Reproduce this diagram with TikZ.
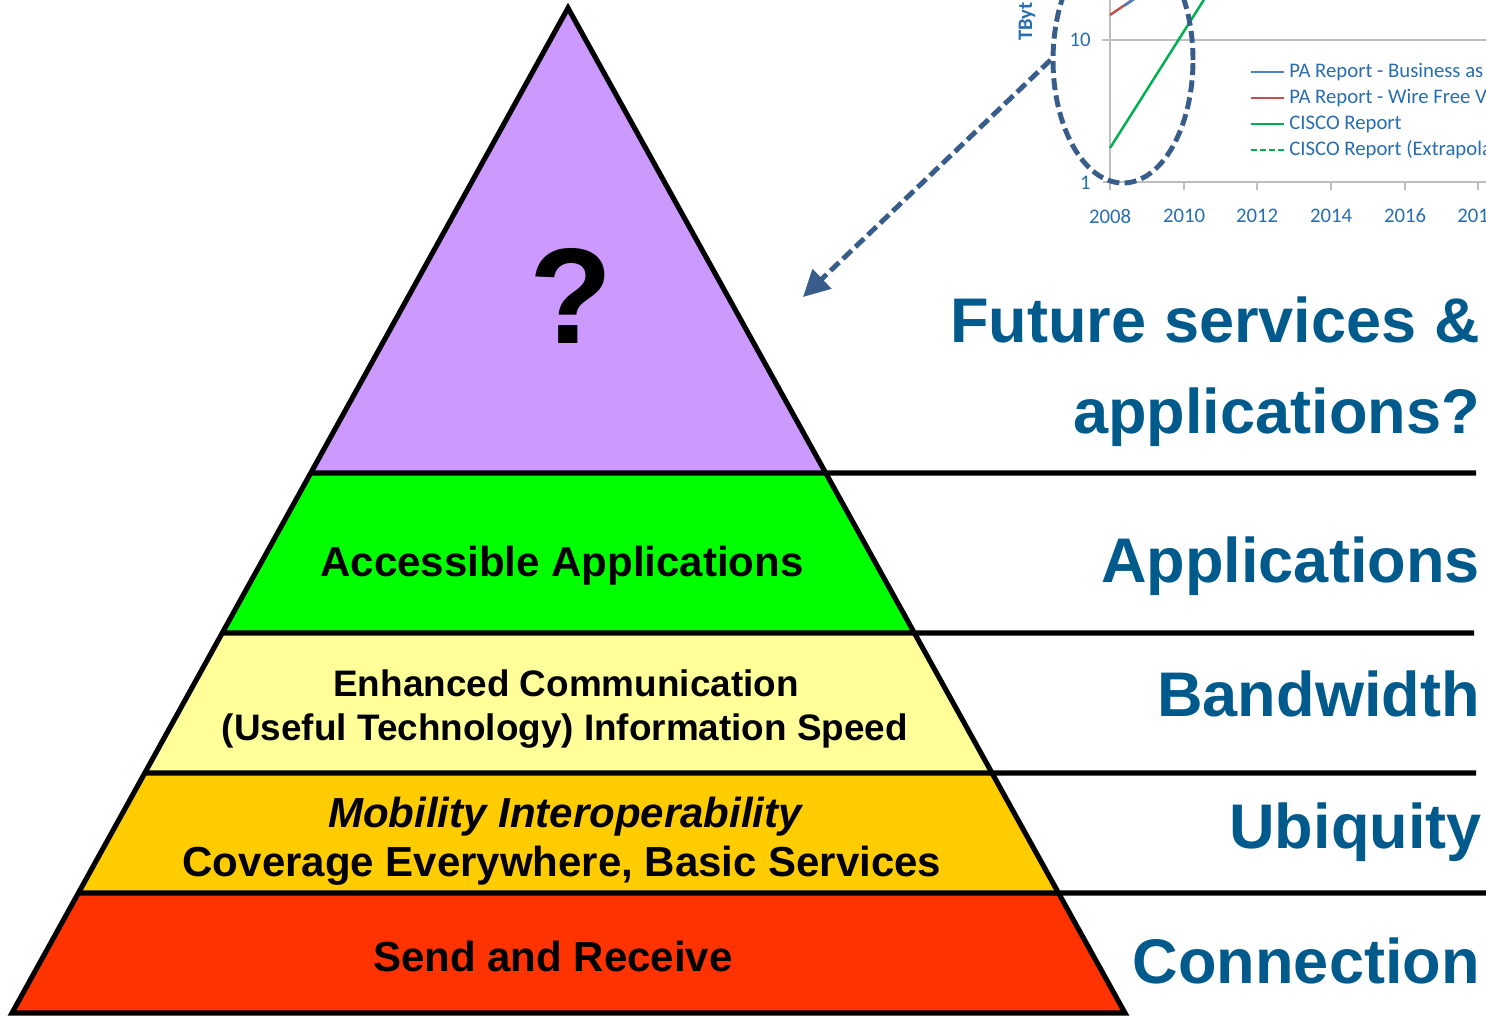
\documentclass[tikz,border=0pt]{standalone}
\usepackage{fontspec}
\usepackage{tikz}
\setmainfont{Liberation Sans}
\newfontfamily\chartfont{Carlito}
\usetikzlibrary{calc, shapes, arrows.meta}
\definecolor{toptier}{RGB}{204,153,255}
\definecolor{apptier}{RGB}{0,255,0}
\definecolor{bandtier}{RGB}{255,255,153}
\definecolor{ubiqtier}{RGB}{255,204,0}
\definecolor{conntier}{RGB}{255,51,0}
\definecolor{labelblue}{RGB}{0,90,140}
\definecolor{ringblue}{RGB}{56,93,138}
\definecolor{charttext}{RGB}{40,110,175}
\definecolor{chartgrid}{RGB}{190,190,190}
\definecolor{pablue}{RGB}{79,129,189}
\definecolor{pared}{RGB}{192,80,77}
\definecolor{ciscogreen}{RGB}{0,176,80}

\begin{document}
\begin{tikzpicture}[x=0.02cm, y=-0.02cm]
\tikzstyle{edge}=[draw=black, line width=2.9pt, line join=miter]
\tikzstyle{tiertext}=[font=\bfseries\fontsize{23.9}{28}\selectfont, anchor=base, inner sep=0pt]
\tikzstyle{sidelabel}=[font=\bfseries\fontsize{35.9}{43}\selectfont, text=labelblue, anchor=base east, inner sep=0pt]
\tikzstyle{ticklabel}=[font=\chartfont\fontsize{11.8}{14}\selectfont, text=charttext, inner sep=0pt]
\tikzstyle{dashline}=[draw=ringblue, line width=2.8pt, dash pattern=on 6.8pt off 3pt]
\tikzstyle{dataline}=[line width=1.4pt]

\fill[white] (0,0) rectangle (1486,1015);
\clip (0,0) rectangle (1486,1015);

% pyramid corners and tier edges
\coordinate (apex) at (568,8);
\coordinate (bl) at (12,1013);
\coordinate (br) at (1125,1013);
\foreach \n/\t in {a/0.4627,b/0.6219,c/0.7612,d/0.8806} {
  \coordinate (l\n) at ($(apex)!\t!(bl)$);
  \coordinate (r\n) at ($(apex)!\t!(br)$);
}
\fill[toptier] (apex) -- (ra) -- (la) -- cycle;
\fill[apptier] (la) -- (ra) -- (rb) -- (lb) -- cycle;
\fill[bandtier] (lb) -- (rb) -- (rc) -- (lc) -- cycle;
\fill[ubiqtier] (lc) -- (rc) -- (rd) -- (ld) -- cycle;
\fill[conntier] (ld) -- (rd) -- (br) -- (bl) -- cycle;

\draw[edge] (la) -- (1476,473);
\draw[edge] (lb) -- (1474,633);
\draw[edge] (lc) -- (1476,773);
\draw[edge] (ld) -- (1486,893);
\draw[edge] (apex) -- (bl) -- (br) -- cycle;

% tier texts
\node[tiertext, font=\bfseries\fontsize{77.5}{80}\selectfont] (T_0) at (571,343) {?};
\node[tiertext] (T_1) at (562,576) {Accessible Applications};
\node[tiertext, font=\bfseries\fontsize{21}{25}\selectfont] (T_2) at (566,696) {Enhanced Communication};
\node[tiertext, font=\bfseries\fontsize{21}{25}\selectfont] (T_3) at (565,740) {(Useful Technology) Information Speed};
\node[tiertext, font=\bfseries\itshape\fontsize{23.9}{28}\selectfont] (T_4) at (565,827) {Mobility Interoperability};
\node[tiertext] (T_5) at (562,876) {Coverage Everywhere, Basic Services};
\node[tiertext] (T_6) at (553,971) {Send and Receive};

% side labels
\node[sidelabel] (S_0) at (1480,342) {Future services \&};
\node[sidelabel] (S_1) at (1480,433) {applications?};
\node[sidelabel] (S_2) at (1480,582) {Applications};
\node[sidelabel] (S_3) at (1480,716) {Bandwidth};
\node[sidelabel] (S_4) at (1482,848) {Ubiquity};
\node[sidelabel] (S_5) at (1480,983) {Connection};

% chart corner
\draw[chartgrid, line width=1.1pt] (1102,40) -- (1486,40);
\draw[chartgrid, line width=1.1pt] (1103,182) -- (1486,182);
\draw[chartgrid, line width=1.1pt] (1110,-5) -- (1110,190);
\foreach \x in {1184,1257,1331,1405,1478}
  \draw[chartgrid, line width=1.1pt] (\x,182) -- (\x,190);
\node[ticklabel, anchor=east] (Y_1) at (1091,40) {10};
\node[ticklabel, anchor=east] (Y_0) at (1091,183) {1};
\foreach \x/\yr in {1110/2008,1184/2010,1257/2012,1331/2014,1405/2016}
  \node[ticklabel] (X_\yr) at (\x,216) {\yr};
\node[ticklabel, anchor=west] (X_2018) at (1457,216) {201};
\node[ticklabel, font=\chartfont\bfseries\fontsize{11.7}{14}\selectfont, rotate=90, anchor=base west] (Y_T) at (1032,41) {TByt};

\draw[dataline, ciscogreen] (1110,148) -- (1205,-2);
\draw[dataline, pared] (1110,15) -- (1138,-4);
\draw[dataline, pablue] (1124,6) -- (1140,-5);

\foreach \y/\c in {72/pablue,98/pared,124/ciscogreen}
  \draw[dataline, \c] (1251,\y) -- (1284,\y);
\draw[dataline, ciscogreen, dash pattern=on 3.2pt off 2pt] (1251,150) -- (1284,150);
\node[ticklabel, anchor=west] (L_0) at (1289,72) {PA Report - Business as};
\node[ticklabel, anchor=west] (L_1) at (1289,98) {PA Report - Wire Free V};
\node[ticklabel, anchor=west] (L_2) at (1289,124) {CISCO Report};
\node[ticklabel, anchor=west] (L_3) at (1289,150) {CISCO Report (Extrapola};

% zoom ring and pointer
\node[ellipse, dashline, minimum width=2.8cm, minimum height=4.92cm, inner sep=0pt] (ring) at (1123,60) {};
\coordinate (qtip) at (803,297);
\draw[dashline, -{Triangle[length=15pt, width=15pt]}] (ring.west) -- (qtip);

\end{tikzpicture}
\end{document}
